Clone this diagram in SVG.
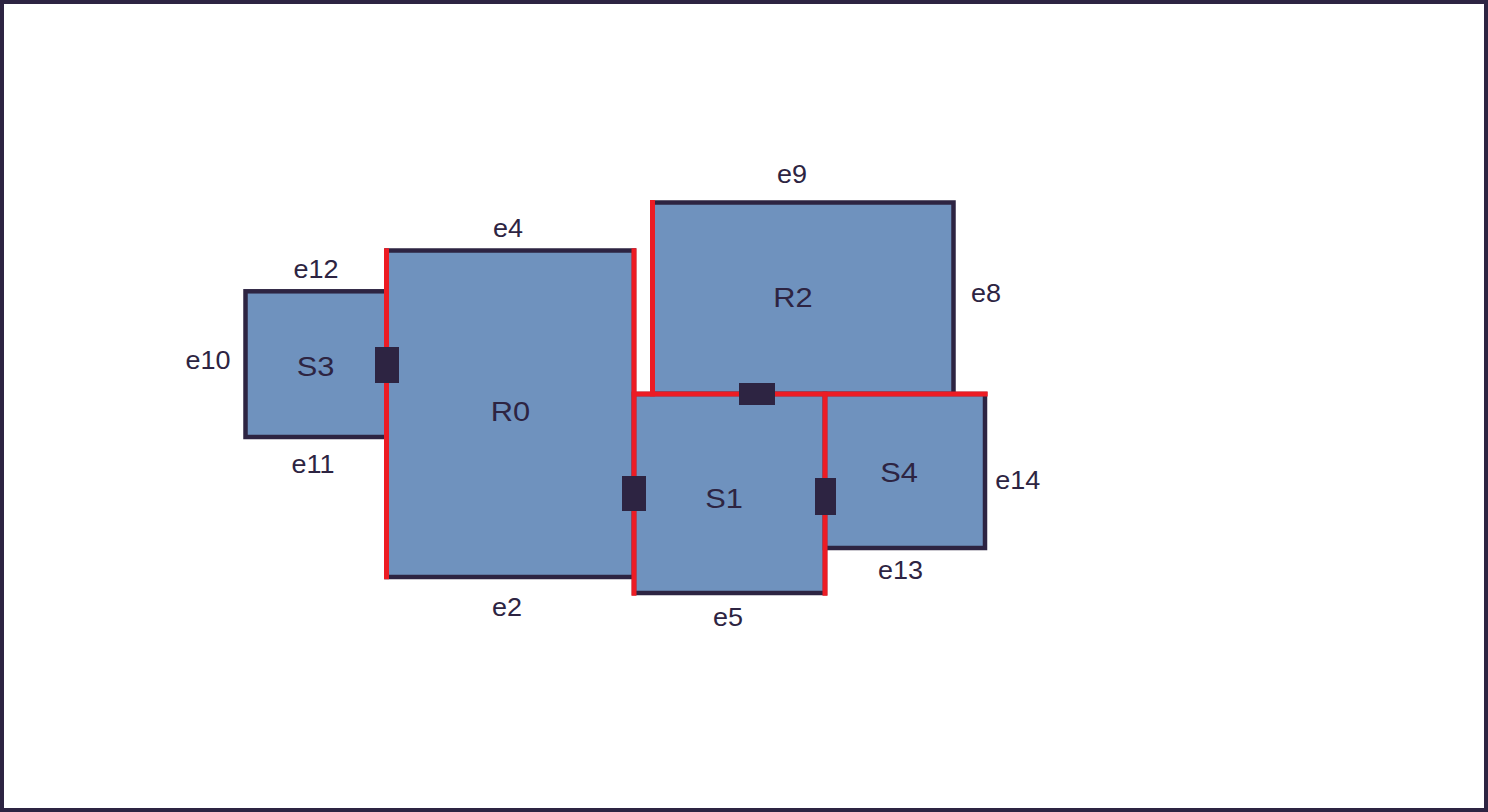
<svg xmlns="http://www.w3.org/2000/svg" width="1488" height="812" viewBox="0 0 1488 812">
<style>
.room{fill:#6f92be;stroke:#2d2442;stroke-width:4.5}
.wall{stroke:#ec1c24;stroke-width:5;fill:none}
.door{fill:#2d2442}
.nl{font-family:"Liberation Sans",Arial,sans-serif;font-size:28px;fill:#2d2442;text-anchor:middle}
.el{font-family:"Liberation Sans",Arial,sans-serif;font-size:25px;fill:#2d2442;text-anchor:middle}
</style>
<rect x="2" y="2" width="1484" height="808" fill="#ffffff" stroke="#2d2442" stroke-width="4"/>
<g id="S3"><rect class="room" x="245.5" y="291.3" width="141" height="145.7"/><text class="nl" transform="translate(315.5,375.7) scale(1.1,1)">S3</text></g>
<g id="R0"><rect class="room" x="386.5" y="250.5" width="247.5" height="326.5"/><text class="nl" transform="translate(510.5,420.7) scale(1.1,1)">R0</text></g>
<g id="R2"><rect class="room" x="652.5" y="202.5" width="301" height="191.5"/><text class="nl" transform="translate(793,306.7) scale(1.1,1)">R2</text></g>
<g id="S1"><rect class="room" x="634" y="394" width="191" height="199"/><text class="nl" transform="translate(724,507.7) scale(1.1,1)">S1</text></g>
<g id="S4"><rect class="room" x="825" y="394" width="160" height="154"/><text class="nl" transform="translate(899,482.3) scale(1.1,1)">S4</text></g>
<g id="connectors">
<line class="wall" x1="386.5" y1="248.3" x2="386.5" y2="579.3"/>
<line class="wall" x1="634" y1="248.3" x2="634" y2="595.7"/>
<line class="wall" x1="652.5" y1="200" x2="652.5" y2="396.5"/>
<line class="wall" x1="631.7" y1="394" x2="987.7" y2="394"/>
<line class="wall" x1="825" y1="391.7" x2="825" y2="595.7"/>
<rect class="door" x="375" y="347" width="24" height="36"/>
<rect class="door" x="739" y="383" width="36" height="22"/>
<rect class="door" x="622" y="476" width="24" height="35"/>
<rect class="door" x="815" y="478" width="21" height="37"/>
</g>
<g id="labels">
<text class="el" transform="translate(316,277.7) scale(1.08,1)">e12</text>
<text class="el" transform="translate(208,369) scale(1.08,1)">e10</text>
<text class="el" transform="translate(313,473) scale(1.08,1)">e11</text>
<text class="el" transform="translate(508,237) scale(1.08,1)">e4</text>
<text class="el" transform="translate(507,616) scale(1.08,1)">e2</text>
<text class="el" transform="translate(792,183) scale(1.08,1)">e9</text>
<text class="el" transform="translate(986,301.7) scale(1.08,1)">e8</text>
<text class="el" transform="translate(728,626) scale(1.08,1)">e5</text>
<text class="el" transform="translate(900.5,579) scale(1.08,1)">e13</text>
<text class="el" transform="translate(1017.7,488.7) scale(1.08,1)">e14</text>
</g>
</svg>
